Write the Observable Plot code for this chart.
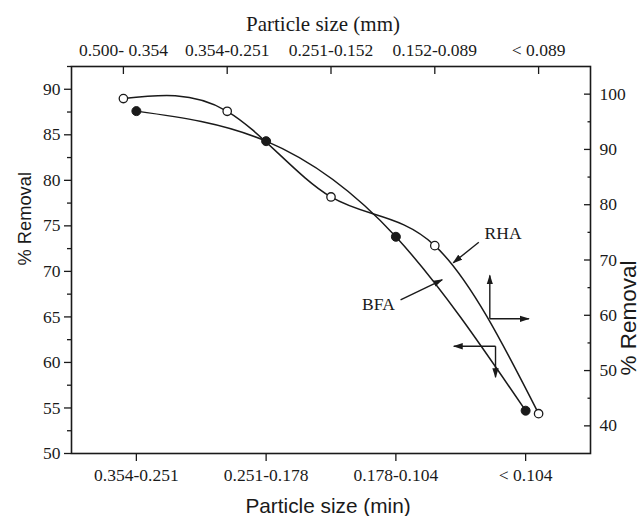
<!DOCTYPE html>
<html>
<head>
<meta charset="utf-8">
<script src="https://cdn.jsdelivr.net/npm/d3@7"></script>
<script src="https://cdn.jsdelivr.net/npm/@observablehq/plot@0.6"></script>
<style>
  html, body { margin: 0; padding: 0; background: #fff; }
  #chart svg text { font-family: "Liberation Serif", "Times New Roman", serif; }
  #chart svg g.sans-title text { font-family: "Liberation Sans", Arial, sans-serif; }
</style>
</head>
<body>
<div id="chart"></div>
<script>
// ---- Data ----
const bottomCategories = ["0.354-0.251", "0.251-0.178", "0.178-0.104", "< 0.104"];   // Particle size (min)
const topCategories = ["0.500- 0.354", "0.354-0.251", "0.251-0.152", "0.152-0.089", "< 0.089"]; // Particle size (mm)
const bfaValues = [87.6, 84.3, 73.8, 54.7];          // BFA, left axis, bottom categories
const rhaValues = [99.2, 96.9, 81.4, 72.6, 42.2];    // RHA, right axis, top categories
const leftTicks = [50, 55, 60, 65, 70, 75, 80, 85, 90];
const leftMinorTicks = [52.5, 57.5, 62.5, 67.5, 72.5, 77.5, 82.5, 87.5, 92.5];
const rightTicks = [40, 50, 60, 70, 80, 90, 100];
const rightMinorTicks = [45, 55, 65, 75, 85, 95];
const leftDomain = [50, 92.5];
const rightDomain = [35, 105];

// annotation labels and arrows (data units of the bottom / left axes)
const labelNames = ["RHA", "BFA"];
const labelX = [3.826, 2.866];
const labelY = [74.16, 66.36];
const arrowX1 = [3.639, 3.036, 3.724, 3.724, 3.768, 3.768];
const arrowY1 = [73.2, 66.88, 64.79, 64.79, 61.78, 61.78];
const arrowX2 = [3.442, 3.357, 3.724, 4.025, 3.446, 3.768];
const arrowY2 = [70.94, 69.08, 69.55, 64.79, 61.78, 58.38];

const serif = "Liberation Serif";
const sans = "Liberation Sans";
const ink = "#1a1a1a";

// secondary axes mapped onto the primary scales
const topToBottom = k => 0.5 + (k - 0.5) * 4 / 5;
const bottomToTop = x => 0.5 + (x - 0.5) * 5 / 4;
const rightToLeft = v => leftDomain[0] + (v - rightDomain[0]) * (leftDomain[1] - leftDomain[0]) / (rightDomain[1] - rightDomain[0]);
const leftToRight = y => rightDomain[0] + (y - leftDomain[0]) * (rightDomain[1] - rightDomain[0]) / (leftDomain[1] - leftDomain[0]);

const bfa = bfaValues.map((v, i) => ({x: i + 1, y: v}));
const rha = rhaValues.map((v, i) => ({x: topToBottom(i + 1), y: rightToLeft(v)}));
const labels = labelNames.map((t, i) => ({t, x: labelX[i], y: labelY[i]}));
const arrows = arrowX1.map((_, i) => ({x1: arrowX1[i], y1: arrowY1[i], x2: arrowX2[i], y2: arrowY2[i]}));

// filled triangular arrow head marker
function filledArrow(color, context) {
  const doc = (context && context.document) || document;
  const ns = "http://www.w3.org/2000/svg";
  const m = doc.createElementNS(ns, "marker");
  m.setAttribute("viewBox", "-9 -3.5 10 7");
  m.setAttribute("markerWidth", 10);
  m.setAttribute("markerHeight", 7);
  m.setAttribute("markerUnits", "userSpaceOnUse");
  m.setAttribute("orient", "auto");
  m.setAttribute("refX", 0);
  m.setAttribute("refY", 0);
  const p = doc.createElementNS(ns, "path");
  p.setAttribute("d", "M-9,-3.2L1,0L-9,3.2Z");
  p.setAttribute("fill", color);
  p.setAttribute("stroke", "none");
  m.appendChild(p);
  return m;
}

function build(useCustom) {
  const arrowMark = useCustom
    ? Plot.link(arrows, {x1: "x1", y1: "y1", x2: "x2", y2: "y2", stroke: ink, strokeWidth: 1.4, markerEnd: filledArrow})
    : Plot.arrow(arrows, {x1: "x1", y1: "y1", x2: "x2", y2: "y2", stroke: ink, strokeWidth: 1.5, headLength: 9, headAngle: 32});
  return Plot.plot({
    width: 640,
    height: 516,
    marginLeft: 71,
    marginRight: 50,
    marginTop: 66,
    marginBottom: 63,
    style: {background: "#fff", color: ink, fontSize: "17.5px"},
    x: {domain: [0.5, 4.5], axis: null, label: null},
    y: {domain: leftDomain, axis: null, label: null},
    marks: [
      Plot.axisX(bottomCategories.map((_, i) => i + 1), {
        anchor: "bottom", tickSize: 8, tickPadding: 7, strokeWidth: 1.3, label: null,
        tickFormat: x => bottomCategories[Math.round(x) - 1], fontSize: 17.5
      }),
      Plot.axisX(topCategories.map((_, i) => topToBottom(i + 1)), {
        anchor: "top", tickSize: 7, insetTop: 7, tickPadding: 11, strokeWidth: 1.3, label: null,
        tickFormat: x => topCategories[Math.round(bottomToTop(x)) - 1], fontSize: 17.5
      }),
      Plot.axisY(leftTicks, {
        anchor: "left", tickSize: 7, tickPadding: 4, strokeWidth: 1.3, label: null,
        tickFormat: d => String(d), fontSize: 17.5
      }),
      Plot.axisY(leftMinorTicks, {
        anchor: "left", tickSize: 4, strokeWidth: 1.3, label: null, tickFormat: () => ""
      }),
      Plot.axisY(rightTicks.map(rightToLeft), {
        anchor: "right", tickSize: 7, insetRight: 7, tickPadding: 9, strokeWidth: 1.3, label: null,
        tickFormat: y => String(Math.round(leftToRight(y))), fontSize: 17.5
      }),
      Plot.axisY(rightMinorTicks.map(rightToLeft), {
        anchor: "right", tickSize: 3.5, insetRight: 3.5, strokeWidth: 1.3, label: null, tickFormat: () => ""
      }),
      Plot.frame({stroke: ink, strokeWidth: 1.6}),
      Plot.line(bfa, {x: "x", y: "y", curve: "natural", stroke: ink, strokeWidth: 1.5}),
      Plot.line(rha, {x: "x", y: "y", curve: "natural", stroke: ink, strokeWidth: 1.5}),
      Plot.dot(bfa, {x: "x", y: "y", r: 4.5, fill: ink, stroke: ink, strokeWidth: 1}),
      Plot.dot(rha, {x: "x", y: "y", r: 4.2, fill: "#fff", stroke: ink, strokeWidth: 1.3}),
      arrowMark,
      Plot.text(labels, {x: "x", y: "y", text: "t", fontFamily: serif, fontSize: 17.5, fill: ink}),
      Plot.text(["Particle size (mm)"], {frameAnchor: "top", dx: -8, dy: -36, lineAnchor: "bottom", fontFamily: serif, fontSize: 21, fill: ink}),
      Plot.text(["Particle size (min)"], {className: "sans-title", frameAnchor: "bottom", dx: -3, dy: 59.5, lineAnchor: "bottom", fontFamily: sans, fontSize: 20.8, fill: ink}),
      Plot.text(["% Removal"], {className: "sans-title", frameAnchor: "left", dx: -41, dy: 5.5, rotate: -90, lineAnchor: "bottom", fontFamily: sans, fontSize: 18.3, fill: ink}),
      Plot.text(["% Removal"], {className: "sans-title", frameAnchor: "right", dx: 45, dy: 0.5, rotate: -90, lineAnchor: "bottom", fontFamily: sans, fontSize: 22.5, fill: ink})
    ]
  });
}

let chart;
try {
  chart = build(true);
  if (!chart.querySelector("marker path")) chart = build(false);
} catch (e) {
  chart = build(false);
}
document.getElementById("chart").appendChild(chart);
</script>
</body>
</html>
